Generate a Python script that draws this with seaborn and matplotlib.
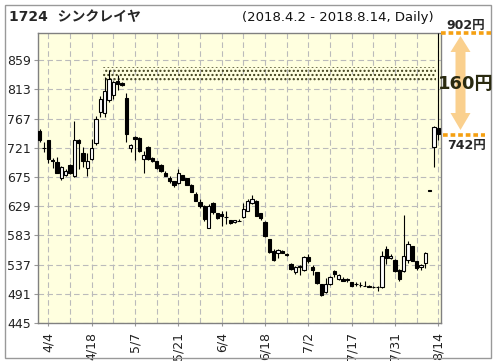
import matplotlib
matplotlib.use("Agg")
import matplotlib.pyplot as plt
from matplotlib.patches import Rectangle, Polygon
from matplotlib.lines import Line2D
import numpy as np
import pandas as pd
import seaborn as sns

sns.set_style("white")
plt.rcParams['font.family'] = ['DejaVu Sans', 'Noto Sans CJK JP']
plt.rcParams['hatch.linewidth'] = 1.0

# trading days 2018-04-02 .. 2018-08-14 (Japanese market holidays removed)
holidays = ['2018-04-30', '2018-05-03', '2018-05-04', '2018-07-16']
days = pd.bdate_range('2018-04-02', '2018-08-14')
days = days[~days.isin(pd.to_datetime(holidays))]

# daily OHLC
opens = [748, 721, 734, 702, 699, 673, 679, 694, 676, 734,
         713, 690, 703, 729, 778, 776, 797, 805, 826, 823,
         800, 720, 738, 737, 703, 723, 705, 700, 694, 682,
         674, 668, 666, 678, 673, 663, 648, 636, 630, 594,
         634, 618, 616, 612, 607, 604, 606, 612, 622, 634,
         638, 618, 604, 577, 559, 555, 559, 554, 538, 526,
         535, 528, 549, 533, 525, 506, 494, 506, 527, 514,
         514, 514, 509, 507, 505, 504, 504, 502, 501, 501,
         561, 547, 545, 529, 527, 544, 566, 542, 533, 540,
         654, 722, 752]
highs = [751, 730, 734, 705, 706, 693, 687, 695, 763, 735,
         722, 713, 735, 771, 803, 832, 844, 827, 836, 825,
         808, 727, 740, 738, 716, 724, 706, 701, 696, 684,
         676, 669, 687, 679, 674, 664, 651, 640, 631, 632,
         636, 619, 621, 621, 608, 608, 609, 634, 640, 646,
         639, 619, 605, 578, 561, 562, 560, 555, 540, 535,
         536, 551, 554, 536, 526, 507, 516, 519, 528, 522,
         517, 516, 510, 510, 509, 511, 505, 503, 504, 558,
         566, 553, 546, 530, 615, 574, 567, 543, 538, 557,
         655, 755, 902]
lows = [731, 714, 697, 690, 681, 671, 676, 680, 675, 687,
        691, 677, 702, 726, 770, 770, 793, 798, 812, 818,
        731, 715, 702, 715, 681, 702, 699, 688, 683, 676,
        665, 659, 664, 670, 662, 651, 637, 627, 606, 594,
        617, 609, 598, 601, 601, 603, 605, 611, 621, 633,
        613, 607, 581, 556, 542, 548, 555, 551, 529, 522,
        521, 527, 540, 520, 506, 487, 493, 505, 517, 512,
        511, 510, 503, 503, 502, 503, 502, 500, 496, 500,
        538, 546, 526, 511, 526, 539, 542, 529, 529, 532,
        653, 691, 733]
closes = [734, 720, 704, 700, 682, 691, 685, 681, 734, 729,
          700, 700, 720, 767, 798, 810, 830, 824, 822, 820,
          743, 725, 735, 716, 710, 703, 700, 689, 684, 677,
          669, 663, 682, 671, 663, 652, 638, 630, 609, 629,
          620, 610, 613, 612, 602, 607, 606, 624, 637, 641,
          614, 610, 582, 557, 545, 560, 556, 552, 530, 533,
          533, 549, 543, 528, 508, 489, 506, 517, 523, 521,
          511, 512, 504, 507, 505, 504, 502, 501, 501, 551,
          547, 551, 527, 515, 550, 569, 543, 532, 536, 556,
          653, 754, 743]

y_ticks = [445, 491, 537, 583, 629, 675, 721, 767, 813, 859]
band_range = (825, 848)
range_low, range_high = 742, 902

df = pd.DataFrame({'date': days, 'open': opens, 'high': highs,
                   'low': lows, 'close': closes})
df['x'] = np.arange(len(df))
up = df['close'] >= df['open']

W, H = 496, 364
fig = plt.figure(figsize=(W / 100, H / 100), dpi=100)
ax = fig.add_axes([38 / W, 41 / H, 403 / W, 290 / H])
ax.set_facecolor('#FFFFDF')


def fx(x):
    return x / W


def fy(y):
    return 1 - y / H


# wicks and bodies
ax.vlines(df['x'], df['low'], df['high'], color='black', lw=0.8, zorder=3)
body_lo = df[['open', 'close']].min(axis=1)
body_h = (df['close'] - df['open']).abs()
ax.bar(df['x'][up], body_h[up], bottom=body_lo[up], width=0.75,
       color='white', edgecolor='black', lw=0.8, zorder=4)
ax.bar(df['x'][~up], body_h[~up], bottom=body_lo[~up], width=0.75,
       color='black', edgecolor='black', lw=0.8, zorder=4)

# hatched resistance band
ax.add_patch(Rectangle((14.5, band_range[0]), 77, band_range[1] - band_range[0],
                       facecolor='none', edgecolor='#3c3c18', lw=0,
                       hatch='....', zorder=2))

ax.set_xlim(-0.4, 92.6)
ax.set_ylim(445, 902)
ax.set_yticks(y_ticks)
ax.set_yticklabels([str(v) for v in y_ticks], fontsize=9, color='#222222')

label_idx = list(range(2, len(df), 10))
ax.set_xticks(label_idx)
ax.set_xticklabels([f"{d.month}/{d.day}" for d in df['date'].iloc[label_idx]],
                   rotation=90, fontsize=9, color='#222222', va='top')
ax.set_xticks(list(range(7, len(df), 10)), minor=True)

ax.grid(True, which='both', color='#BBBBBB', lw=0.8, linestyle=(0, (5, 3)))
ax.set_axisbelow(True)
ax.tick_params(axis='y', length=3, width=0.8, color='#999999', pad=2, left=True)
ax.tick_params(axis='x', which='major', length=2.5, width=0.8, color='#999999',
               pad=4, bottom=True)
ax.tick_params(axis='x', which='minor', length=0)
for s in ax.spines.values():
    s.set_color('#808080')
    s.set_linewidth(1)

# titles
fig.text(fx(9), fy(17), '1724  シンクレイヤ', fontsize=10, fontweight='bold',
         ha='left', va='center')
fig.text(fx(242), fy(17), '(2018.4.2 - 2018.8.14, Daily)', fontsize=9.5,
         ha='left', va='center', color='#111111')

# outer frame
fig.add_artist(Rectangle((fx(5), fy(358)), 486 / W, 353 / H,
                         transform=fig.transFigure, fill=False,
                         ec='#999999', lw=1))

# range annotation on the right
orange = '#F5A012'
ax_tr = ax.transData
y_hi = fig.transFigure.inverted().transform(ax_tr.transform((0, range_high)))[1]
y_lo = fig.transFigure.inverted().transform(ax_tr.transform((0, range_low)))[1]
fig.add_artist(Line2D([fx(441), fx(491)], [y_hi, y_hi], transform=fig.transFigure,
                      color=orange, lw=2.6, linestyle=(0, (1.3, 0.8)),
                      dash_capstyle='butt'))
fig.add_artist(Line2D([fx(443), fx(485)], [y_lo, y_lo], transform=fig.transFigure,
                      color=orange, lw=2.6, linestyle=(0, (1.3, 0.8)),
                      dash_capstyle='butt'))
arrow_px = [(460.5, 36), (450.5, 52), (455.5, 52), (455.5, 113), (450.5, 113),
            (460.5, 130), (470.5, 113), (465.5, 113), (465.5, 52), (470.5, 52)]
fig.add_artist(Polygon([(fx(x), fy(y)) for x, y in arrow_px], closed=True,
                       transform=fig.transFigure, facecolor='#FAD08E',
                       edgecolor='none'))
fig.text(fx(466), y_hi + 8 / H, f'{range_high}円', fontsize=9, fontweight='bold',
         ha='center', va='center')
fig.text(fx(466), y_lo - 11 / H, f'{range_low}円', fontsize=9, fontweight='bold',
         ha='center', va='center')
fig.text(fx(466), fy(84), f'{range_high - range_low}円', fontsize=13,
         fontweight='semibold', ha='center', va='center', color='#2a2a10')

fig.savefig('out.png', dpi=100)
